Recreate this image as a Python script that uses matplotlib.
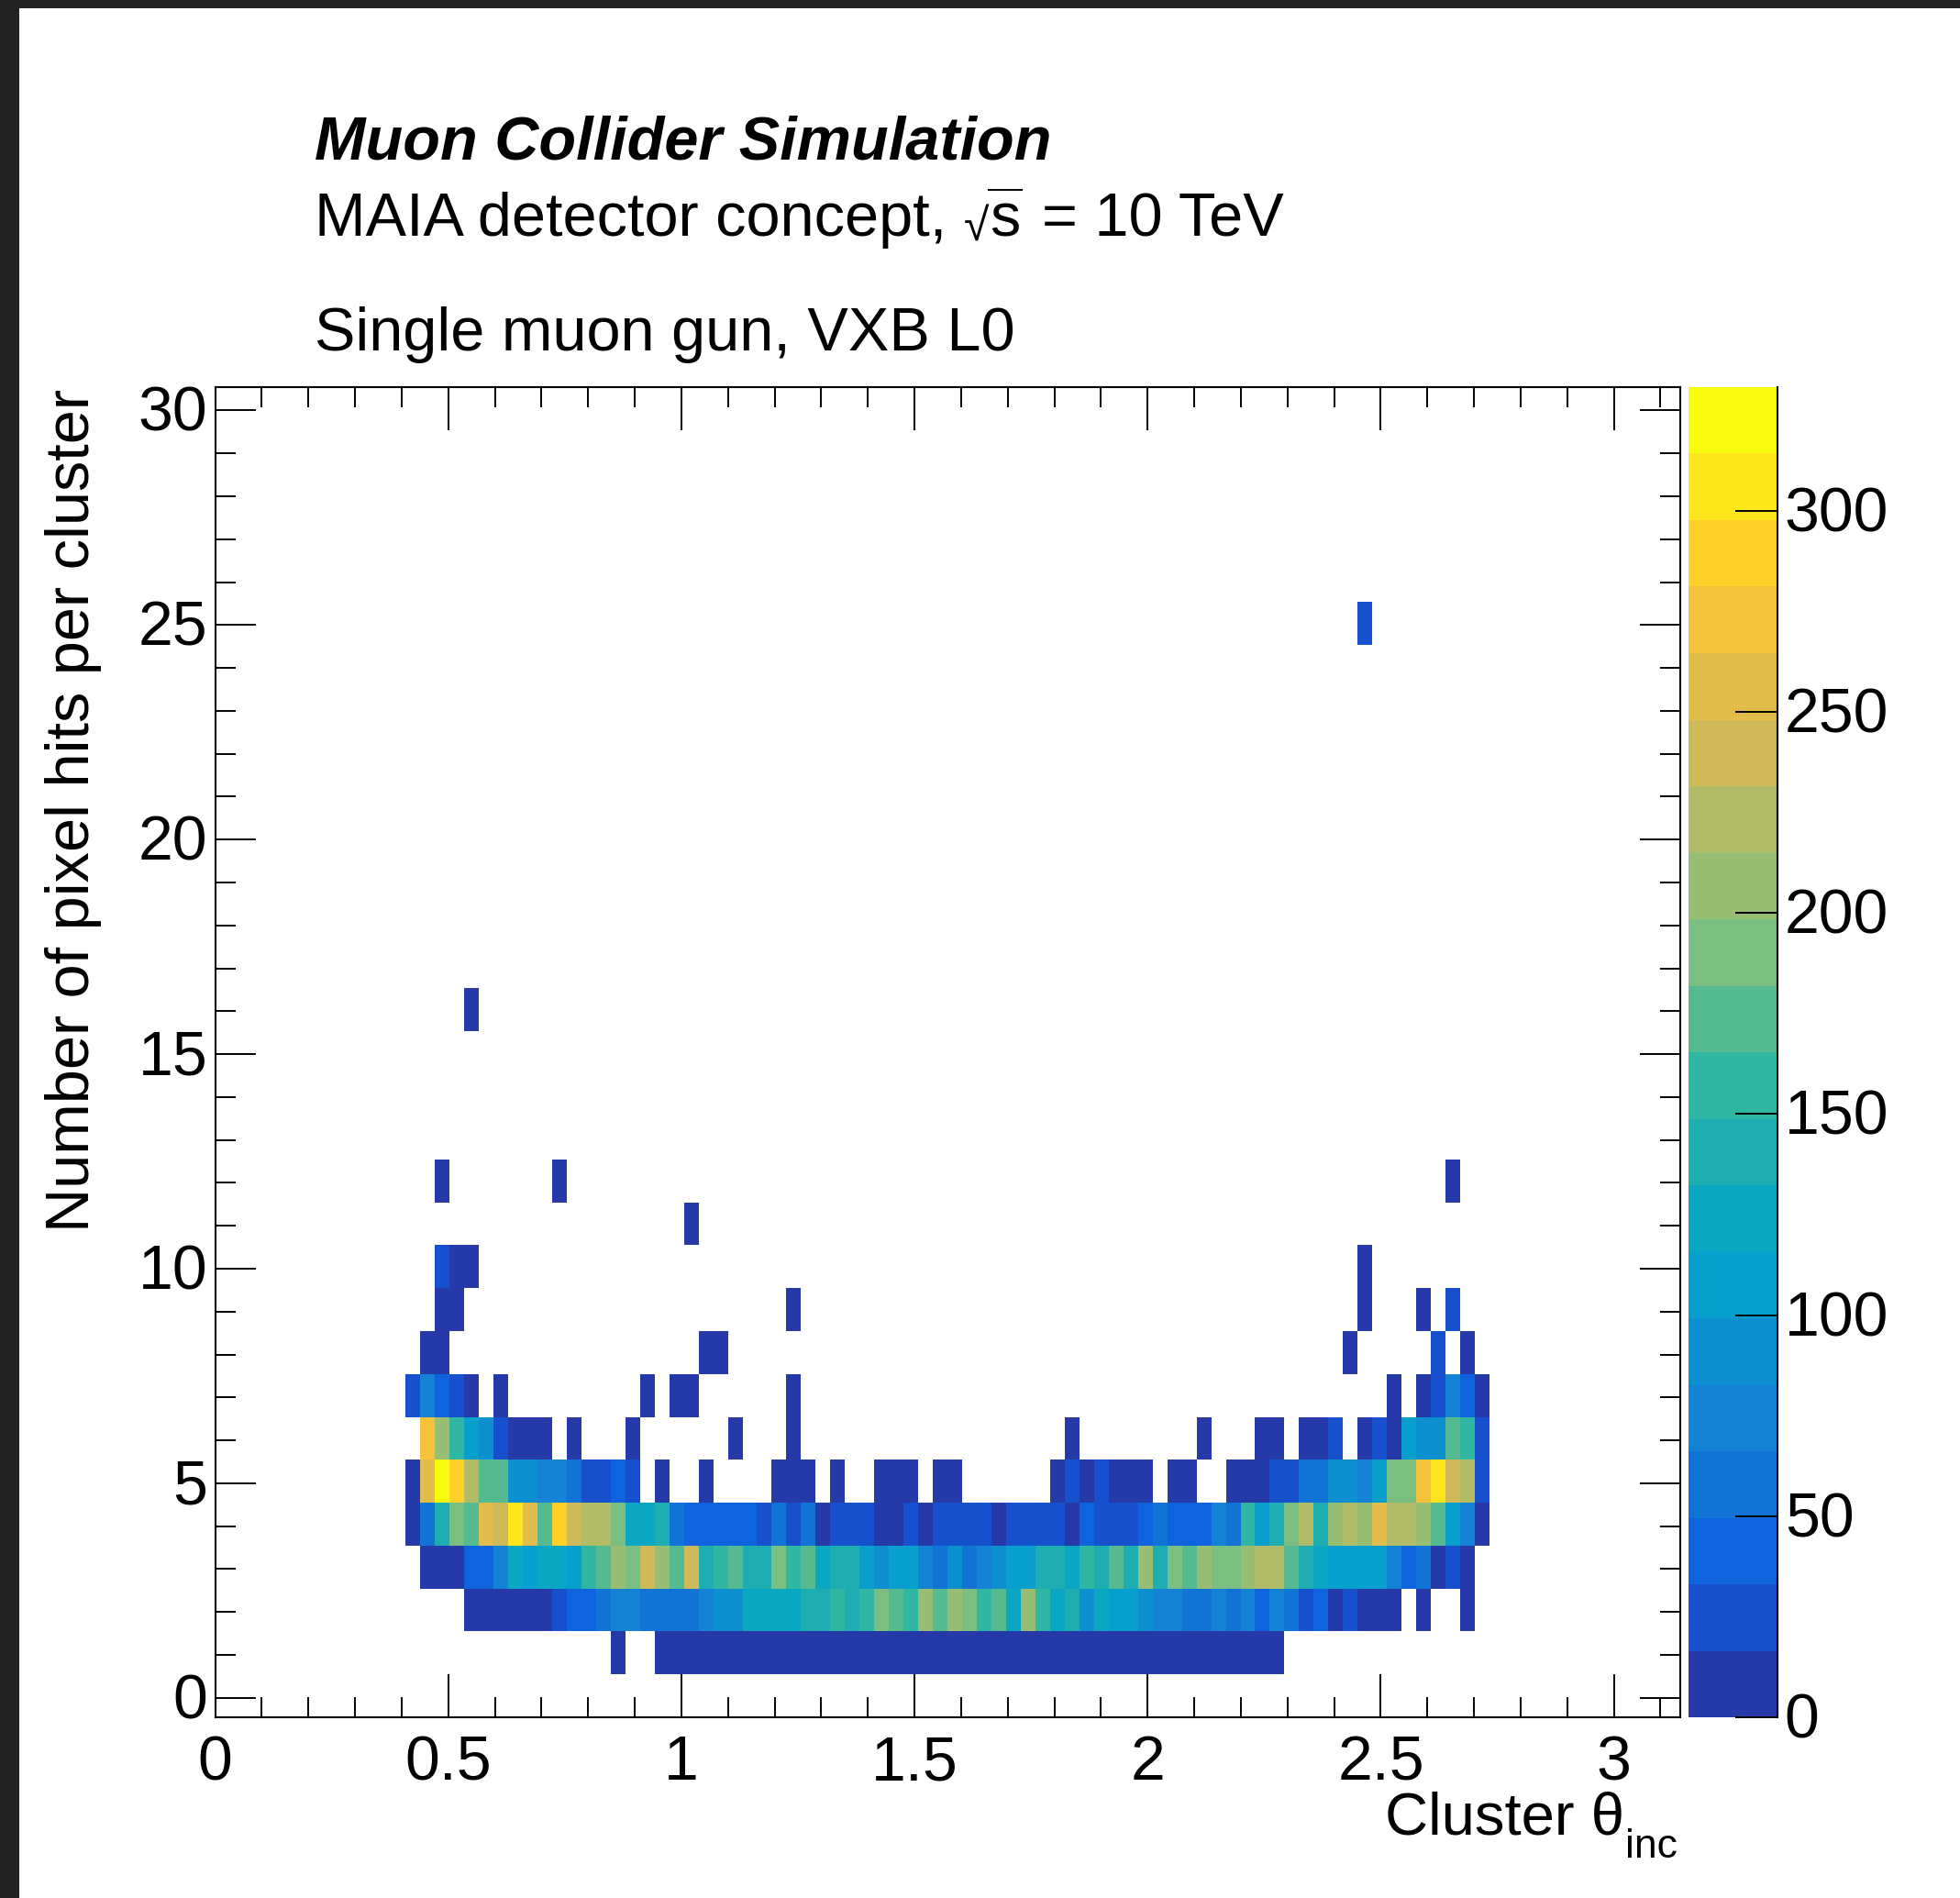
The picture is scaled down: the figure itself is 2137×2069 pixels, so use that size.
import numpy as np
import matplotlib
matplotlib.use('Agg')
import matplotlib.pyplot as plt
from matplotlib.colors import ListedColormap, BoundaryNorm
from matplotlib.lines import Line2D
from matplotlib.patches import Rectangle
from matplotlib.ticker import MultipleLocator
from matplotlib.transforms import ScaledTranslation

W, H = 2137, 2069

plt.rcParams['font.family'] = ['Liberation Sans', 'DejaVu Sans']

# counts per theta bin, rows start at the given bin, 0 means empty
hits1_start = 27
hits1 = [8, 0, 0, 8, 8, 8, 8, 8, 8, 8, 8, 8, 8, 8, 8, 8, 8, 8, 8, 8, 8, 8, 8, 8, 8, 8, 8,
         8, 8, 8, 8, 8, 8, 8, 8, 8, 8, 8, 8, 8, 8, 8, 8, 8, 8, 8]
hits2_start = 17
hits2 = [8, 8, 8, 8, 8, 8, 25, 41, 41, 58, 75, 75, 58, 58, 58, 58, 75, 91, 91, 124, 124, 124, 124,
         141, 141, 157, 141, 157, 191, 174, 157, 207, 174, 207, 191, 157, 174, 124, 207, 157, 124,
         141, 91, 124, 108, 108, 91, 75, 75, 58, 58, 75, 58, 75, 41, 75, 58, 25, 41, 8, 25, 8, 8, 8,
         0, 8, 0, 0, 8]
hits3_start = 14
hits3 = [8, 8, 8, 41, 41, 75, 124, 108, 124, 124, 108, 157, 174, 207, 191, 240, 207, 174, 240, 141,
         157, 174, 141, 141, 191, 157, 174, 124, 141, 141, 108, 91, 108, 108, 75, 58, 91, 58, 75, 91,
         108, 108, 141, 141, 124, 157, 141, 174, 141, 207, 141, 191, 174, 207, 191, 191, 207, 224,
         224, 174, 141, 124, 108, 108, 108, 108, 75, 41, 58, 8, 25, 8]
hits4_start = 13
hits4 = [8, 58, 141, 191, 174, 257, 240, 307, 257, 174, 290, 240, 224, 224, 191, 124, 124, 141, 58,
         41, 41, 41, 41, 41, 25, 58, 25, 58, 8, 25, 25, 25, 8, 8, 25, 8, 25, 25, 25, 25, 8, 25, 25,
         25, 25, 8, 41, 25, 25, 25, 41, 58, 41, 41, 41, 75, 58, 157, 108, 141, 191, 224, 141, 207,
         224, 207, 257, 224, 224, 207, 174, 108, 75, 8]
hits5_start = 13
hits5 = [8, 257, 323, 290, 224, 174, 174, 91, 91, 75, 75, 58, 25, 25, 41, 25, 0, 8, 0, 0, 8, 0, 0,
         0, 0, 8, 8, 8, 0, 8, 0, 0, 8, 8, 8, 0, 8, 8, 0, 0, 0, 0, 0, 0, 8, 25, 8, 25, 8, 8, 8, 0, 8,
         8, 0, 0, 8, 8, 8, 25, 25, 58, 58, 91, 91, 75, 108, 191, 191, 273, 307, 240, 224, 25]

hits6_bins = [14, 15, 16, 17, 18, 19, 20, 21, 22, 24, 28, 35, 39, 58, 67, 71, 72, 74, 75, 76, 78, 79,
              80, 81, 82, 83, 84, 85, 86]
hits6 = [273, 207, 157, 108, 91, 25, 8, 8, 8, 8, 8, 8, 8, 8, 8, 8, 8, 8, 8, 25, 8, 25, 8, 108, 91,
         91, 174, 157, 25]
hits7_bins = [13, 14, 15, 16, 17, 19, 29, 31, 32, 39, 80, 82, 83, 84, 85, 86]
hits7 = [25, 75, 41, 25, 8, 8, 8, 8, 8, 8, 8, 8, 25, 75, 41, 8]
hits8_bins = [14, 15, 33, 34, 77, 83, 85]
hits8 = [8, 8, 8, 8, 8, 25, 8]
hits9_bins = [15, 16, 39, 78, 82, 84]
hits9 = [8, 8, 8, 8, 8, 25]
hits10_bins = [15, 16, 17, 78]
hits10 = [25, 8, 8, 8]
hits11_bins = [32]
hits11 = [8]
hits12_bins = [15, 23, 84]
hits12 = [8, 8, 8]
hits16_bins = [17]
hits16 = [8]
hits25_bins = [78]
hits25 = [25]

xtick_values = [0, 0.5, 1, 1.5, 2, 2.5, 3]
xtick_labels = ['0', '0.5', '1', '1.5', '2', '2.5', '3']
ytick_values = [0, 5, 10, 15, 20, 25, 30]
ztick_values = [0, 50, 100, 150, 200, 250, 300]

# contour colours of the palette, low to high
band_colors = ['#2639A8', '#1650CC', '#0F63DC', '#1273D6', '#1482D5', '#0C90CF', '#099FCC',
               '#0BA6C2', '#1EAEB2', '#2FB7A3', '#55BA90', '#7ABE82', '#97BE72', '#B2BC67',
               '#CFB958', '#E2BD4B', '#F4C33B', '#FED028', '#FDE61C', '#F9FB0E']
z_max = 330.7

# fill the 2D histogram
n_x, n_y = 100, 31
counts = np.zeros((n_y, n_x))
for row, start, vals in [(1, hits1_start, hits1), (2, hits2_start, hits2), (3, hits3_start, hits3),
                         (4, hits4_start, hits4), (5, hits5_start, hits5)]:
    counts[row, start:start + len(vals)] = vals
for row, bins, vals in [(6, hits6_bins, hits6), (7, hits7_bins, hits7), (8, hits8_bins, hits8),
                        (9, hits9_bins, hits9), (10, hits10_bins, hits10), (11, hits11_bins, hits11),
                        (12, hits12_bins, hits12), (16, hits16_bins, hits16), (25, hits25_bins, hits25)]:
    counts[row, bins] = vals

x_edges = np.linspace(0, np.pi, n_x + 1)
y_edges = np.arange(n_y + 1) - 0.455

fig = plt.figure(figsize=(W / 100, H / 100), dpi=100, facecolor='white')

# dark window border of the screenshot
fig.add_artist(Rectangle((0, 0), 21 / W, 1, transform=fig.transFigure, color='#232323', lw=0))
fig.add_artist(Rectangle((0, 1 - 9 / H), 1, 9 / H, transform=fig.transFigure, color='#232323', lw=0))

ax = fig.add_axes([234.6 / W, (H - 1872) / H, 1597 / W, 1450 / H])
cmap = ListedColormap(band_colors)
norm = BoundaryNorm(np.linspace(0, z_max, len(band_colors) + 1), len(band_colors))
mesh = ax.pcolormesh(x_edges, y_edges, np.ma.masked_equal(counts, 0), cmap=cmap, norm=norm)

ax.set_xlim(0, np.pi)
ax.set_ylim(y_edges[0], y_edges[-1])
ax.set_xticks(xtick_values)
ax.set_xticklabels(xtick_labels)
ax.set_yticks(ytick_values)
ax.xaxis.set_minor_locator(MultipleLocator(0.1))
ax.yaxis.set_minor_locator(MultipleLocator(1))
ax.tick_params(which='major', direction='in', top=True, right=True, length=32, width=1.4,
               labelsize=49)
ax.tick_params(which='minor', direction='in', top=True, right=True, length=15.5, width=1.4)
ax.tick_params(axis='x', which='major', pad=13, length=33.5)
ax.tick_params(axis='y', which='major', pad=6)
for spine in ax.spines.values():
    spine.set_linewidth(1.5)

# tick labels sit a little above their ticks in the original
label_shift = ScaledTranslation(0, 2.5 / 100, fig.dpi_scale_trans)
for tick_label in ax.get_yticklabels():
    tick_label.set_transform(tick_label.get_transform() + label_shift)

# colour scale
cax = fig.add_axes([1841 / W, (H - 1872) / H, 96.5 / W, 1450 / H])
cbar = fig.colorbar(mesh, cax=cax, ticks=ztick_values, spacing='proportional', drawedges=False)
cbar.outline.set_visible(False)
cax.set_ylim(0, z_max)
cax.tick_params(which='major', direction='in', length=33, width=1.4, labelsize=49, pad=6)
cax.minorticks_off()
cax.plot([1, 1], [0, 1], transform=cax.transAxes, color='black', lw=1.5, clip_on=False)
for tick_label in cax.get_yticklabels():
    tick_label.set_transform(tick_label.get_transform() + label_shift)

# labels, placed in picture pixels
def label(x_px, y_px, text, **kw):
    fig.text(x_px / W, 1 - y_px / H, text, **kw)

label(343, 173, 'Muon Collider Simulation', fontsize=48, fontweight='bold', fontstyle='italic',
      va='baseline')
label(343, 257, 'MAIA detector concept,', fontsize=48, va='baseline')
label(1051, 262, '√', fontsize=36, va='baseline')
label(1079, 257, 's', fontsize=48, va='baseline')
fig.add_artist(Line2D([1078 / W, 1114 / W], [1 - 207 / H, 1 - 207 / H], transform=fig.transFigure,
                      color='black', lw=1.4))
label(1136, 257, '= 10 TeV', fontsize=48, va='baseline')
label(343, 382, 'Single muon gun, VXB L0', fontsize=48, va='baseline')
label(1771, 2000, 'Cluster θ', fontsize=47, ha='right', va='baseline')
label(1772, 2025, 'inc', fontsize=32, va='baseline')
label(80, 424, 'Number of pixel hits per cluster', fontsize=48, rotation=90, ha='center', va='top')

fig.savefig('out.png', dpi=100)
